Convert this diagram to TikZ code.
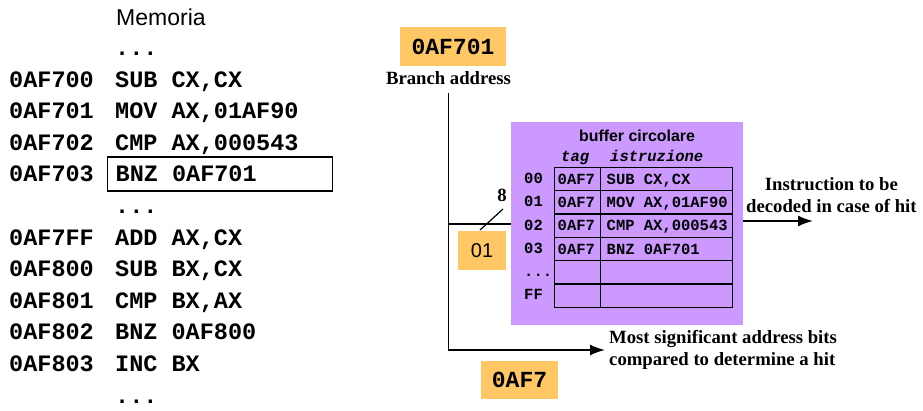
\documentclass[tikz,border=0pt]{standalone}
\usepackage{fontspec}
\setmainfont{Liberation Serif}
\setsansfont{Liberation Sans}
\setmonofont{Liberation Mono}
\usetikzlibrary{positioning, arrows.meta, calc}
\definecolor{addrorange}{HTML}{FFC864}
\definecolor{bufpurple}{HTML}{CC99FF}

\begin{document}
\begin{tikzpicture}[
    x=1pt, y=-1pt,
    memtext/.style={font=\fontsize{23.5}{28}\selectfont\ttfamily\bfseries,
                    inner sep=0pt},
    tabtext/.style={font=\fontsize{15.5}{18}\selectfont\ttfamily\bfseries,
                    inner sep=0pt, text height=10.2pt, text depth=0pt},
    cell/.style={tabtext, draw, line width=1.4pt, anchor=north west,
                 minimum height=23.3pt, align=left},
    orangebox/.style={fill=addrorange, inner sep=0pt,
                      font=\fontsize{23}{27}\selectfont\ttfamily\bfseries},
    serifbold/.style={font=\fontsize{18.7}{22}\selectfont\rmfamily\bfseries,
                      inner sep=0pt, align=center},
    line/.style={line width=1.8pt},
    arrow/.style={line, -{Latex[length=15pt, width=11pt]}},
]
\useasboundingbox (0,0) rectangle (923,410);

% === Memory listing ===
\node[anchor=base west, inner sep=0pt,
      font=\fontsize{23}{27}\selectfont\sffamily] (memtitle) at (116,25) {Memoria};

\foreach \n in {0,5,11}
  \node[memtext, anchor=base west] (dots\n) at (115,{55.4+31.6*\n}) {...};

\foreach \n/\addr/\ins in {1/0AF700/{SUB CX,CX}, 2/0AF701/{MOV AX,01AF90},
    3/0AF702/{CMP AX,000543}, 6/0AF7FF/{ADD AX,CX}, 7/0AF800/{SUB BX,CX},
    8/0AF801/{CMP BX,AX}, 9/0AF802/{BNZ 0AF800}, 10/0AF803/{INC BX}} {
  \node[memtext, anchor=base west] (addr\n) at (9,{55.4+31.6*\n}) {\addr};
  \node[memtext, anchor=base west] (instr\n) at (115,{55.4+31.6*\n}) {\ins};
}

% branch instruction, framed
\node[memtext, anchor=base west] (addr4) at (9,181.8) {0AF703};
\node[memtext, draw, line width=1.3pt, anchor=base west, inner xsep=8pt,
      text width=209pt, align=left, minimum height=34pt] (instr4)
  at (107,181.8) {\spaceskip=0pt\xspaceskip=0pt BNZ 0AF701};

% === Branch address ===
\node[orangebox, minimum width=106pt, minimum height=39pt] (branchaddr)
  at (453,46.5) {0AF701};
\node[serifbold, anchor=base] (branchlbl) at (448.5,84) {Branch address};

% === Buffer ===
\node[fill=bufpurple, anchor=north west, inner sep=0pt,
      minimum width=232pt, minimum height=203pt] (buffer) at (511,122) {};
\node[anchor=base, inner sep=0pt,
      font=\fontsize{15.9}{18}\selectfont\sffamily\bfseries] (buftitle)
  at (637,141) {buffer circolare};
\node[tabtext, anchor=base west, font=\fontsize{15.5}{18}\selectfont\ttfamily\bfseries\itshape]
  (taghead) at (561,161) {tag};
\node[tabtext, anchor=base west, font=\fontsize{15.5}{18}\selectfont\ttfamily\bfseries\itshape]
  (inshead) at (610,161) {istruzione};

\foreach \r/\lbl/\tg/\ins in {0/00/0AF7/{SUB CX,CX}, 1/01/0AF7/{MOV AX,01AF90},
    2/02/0AF7/{CMP AX,000543}, 3/03/0AF7/{BNZ 0AF701}, 4/{}/{}/{}, 5/FF/{}/{}} {
  \node[tabtext, anchor=west] (row\r) at (524,{178.35+23.3*\r}) {\lbl};
  \node[cell, inner xsep=3pt, text width=40pt] (tag\r)
    at (554,{166.7+23.3*\r}) {\tg};
  \node[cell, inner xsep=6pt, text width=120pt] (ins\r)
    at (600,{166.7+23.3*\r}) {\mbox{\spaceskip=0pt\xspaceskip=0pt\relax\ins}};
}
\node[tabtext, anchor=west] (rowdots) at (row4.west) {...};

% === Index and tag ===
\node[orangebox, minimum width=48pt, minimum height=39pt,
      font=\fontsize{20}{24}\selectfont\sffamily] (index) at (482,250.5) {01};
\node[serifbold] (buswidth) at (502,195.5) {8};
\node[orangebox, minimum width=77pt, minimum height=38pt] (tagaddr)
  at (519.5,380) {0AF7};

% === Labels ===
\node[serifbold, anchor=west, inner xsep=2pt] (hitlbl) at (744,195)
  {Instruction to be\\decoded in case of hit};
\node[serifbold, anchor=west, inner xsep=4pt, align=left] (msblbl) at (605,350)
  {Most significant address bits\\compared to determine a hit};
\coordinate (hitout) at (813,221);

% === Arrows ===
\draw[arrow, shorten <=9pt] (branchlbl.south) |- (msblbl.west);
\draw[line] (branchlbl.south |- buffer.west) -- (buffer.west);
\draw[line, line width=1.2pt] (480,230) -- (503,209);
\draw[arrow] (buffer.east |- hitout) -- (hitout);

\end{tikzpicture}
\end{document}
